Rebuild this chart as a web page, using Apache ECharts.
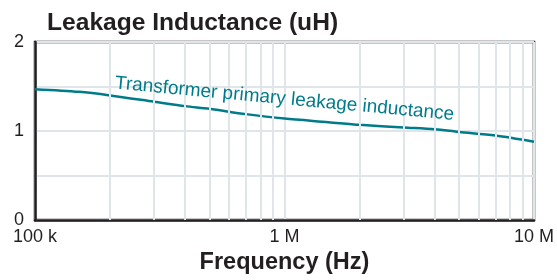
<!DOCTYPE html>
<html>
<head>
<meta charset="utf-8">
<script src="https://cdn.jsdelivr.net/npm/echarts@6/dist/echarts.min.js"></script>
<style>
  html, body { margin: 0; padding: 0; background: #fff; }
  #chart { width: 557px; height: 280px; }
</style>
</head>
<body>
<div id="chart"></div>
<script>
// frequency points (Hz) and leakage inductance (uH)
const freqs = [1e5, 1.5e5, 2e5, 3e5, 4e5, 5e5, 7e5, 1e6, 1.5e6, 2e6, 3e6, 4e6, 5e6, 7e6, 1e7];
const inductance = [1.47, 1.44, 1.40, 1.33, 1.28, 1.25, 1.19, 1.14, 1.10, 1.07, 1.04, 1.02, 0.99, 0.95, 0.88];
// minor vertical grid lines
const minorFreqs = [2e5, 3e5, 4e5, 5e5, 6e5, 7e5, 8e5, 9e5, 2e6, 3e6, 4e6, 5e6, 6e6, 7e6, 8e6, 9e6];
const xTickLabels = { 100000: "100 k", 1000000: "1 M", 10000000: "10 M" };
const seriesLabel = "Transformer primary leakage inductance";

const teal = "#007b8a";
const dark = "#231f20";
const gridGray = "#dfe5e8";
const font = "Liberation Sans, Arial, sans-serif";

const chart = echarts.init(document.getElementById("chart"));
chart.setOption({
  backgroundColor: "#fff",
  animation: false,
  title: {
    text: "Leakage Inductance (uH)",
    left: 42,
    top: 6,
    textStyle: { fontSize: 24.6, fontWeight: "bold", color: dark, fontFamily: font },
  },
  grid: {
    left: 35,
    right: 18,
    top: 42,
    bottom: 58,
    show: true,
    borderColor: dark,
    borderWidth: 2.5,
    backgroundColor: "transparent",
  },
  xAxis: {
    type: "log",
    logBase: 10,
    min: 1e5,
    max: 1e7,
    name: "Frequency (Hz)",
    nameLocation: "middle",
    nameGap: 30,
    nameTextStyle: { fontSize: 23.5, fontWeight: "bold", color: dark, fontFamily: font },
    axisLine: { lineStyle: { color: dark, width: 2.5 } },
    axisTick: { show: false },
    axisLabel: {
      fontSize: 18,
      color: dark,
      fontFamily: font,
      margin: 8,
      formatter: (v) => xTickLabels[Math.round(v)] || "",
    },
    splitLine: { show: true, lineStyle: { color: gridGray, width: 2 } },
  },
  yAxis: {
    type: "value",
    min: 0,
    max: 2,
    interval: 0.5,
    axisLine: { show: true, lineStyle: { color: dark, width: 2.5 } },
    axisTick: { show: false },
    axisLabel: {
      fontSize: 18,
      color: dark,
      fontFamily: font,
      margin: 11,
      formatter: (v) => (Number.isInteger(v) ? String(v) : ""),
    },
    splitLine: { show: true, lineStyle: { color: gridGray, width: 2 } },
  },
  series: [
    {
      // minor log grid lines
      type: "line",
      data: [],
      z: 1,
      silent: true,
      markLine: {
        silent: true,
        symbol: "none",
        label: { show: false },
        lineStyle: { color: gridGray, width: 2, type: "solid" },
        data: minorFreqs.map((f) => ({ xAxis: f })),
      },
    },
    {
      name: seriesLabel,
      type: "line",
      z: 3,
      smooth: 0.3,
      symbol: "none",
      lineStyle: { color: teal, width: 2.5 },
      data: freqs.map((f, i) => [f, inductance[i]]),
      markPoint: {
        symbol: "circle",
        symbolSize: 0,
        label: {
          show: true,
          position: "inside",
          formatter: seriesLabel,
          fontSize: 19,
          color: teal,
          fontFamily: font,
          rotate: -5.3,
        },
        data: [{ coord: [1e6, 1.36] }],
      },
    },
  ],
});
</script>
</body>
</html>
